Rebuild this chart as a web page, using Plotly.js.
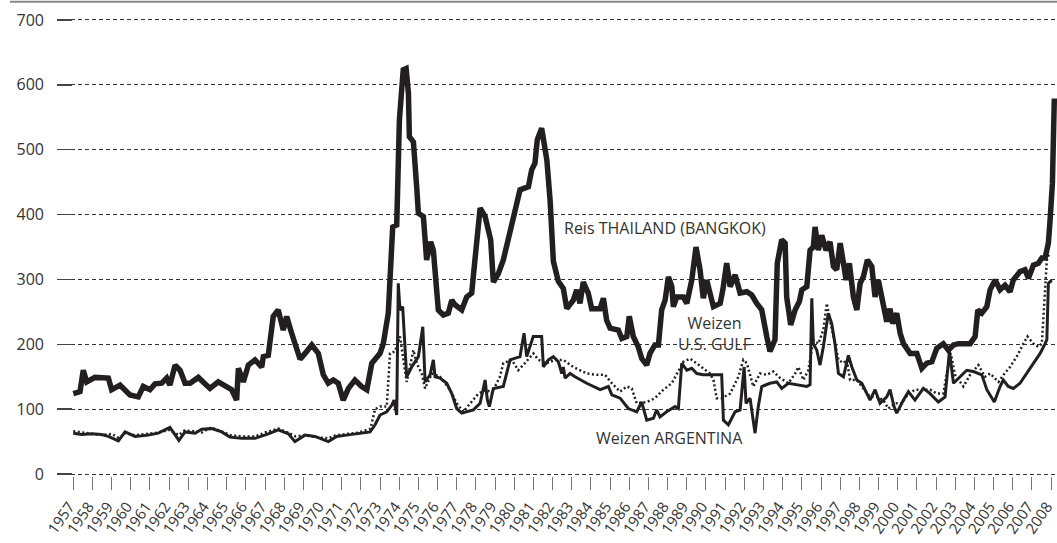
<!DOCTYPE html>
<html>
<head>
<meta charset="utf-8">
<script src="https://cdn.plot.ly/plotly-3.0.1.min.js"></script>
<style>
  html, body { margin: 0; padding: 0; background: #fff; }
  #chart { width: 1057px; height: 543px; }
</style>
</head>
<body>
<div id="chart"></div>
<script>
// Reis THAILAND (BANGKOK)
const riceX = [1957.0,1957.35,1957.52,1957.70,1958.13,1958.83,1959.0,1959.44,1959.96,1960.39,
  1960.65,1961.0,1961.26,1961.61,1961.87,1962.04,1962.31,1962.57,1962.83,1963.09,
  1963.52,1963.78,1964.13,1964.56,1964.91,1965.26,1965.52,1965.61,1965.87,1966.13,
  1966.48,1966.83,1966.91,1967.17,1967.43,1967.69,1967.95,1968.13,1968.39,1968.83,
  1969.09,1969.44,1969.78,1970.04,1970.30,1970.56,1970.82,1971.08,1971.35,1971.69,
  1972.04,1972.31,1972.57,1973.0,1973.17,1973.43,1973.66,1973.87,1974.01,1974.21,
  1974.36,1974.48,1974.53,1974.74,1974.91,1975.0,1975.26,1975.43,1975.64,1975.78,
  1976.04,1976.30,1976.56,1976.74,1976.91,1977.26,1977.52,1977.78,1977.95,1978.22,
  1978.48,1978.65,1978.77,1978.91,1979.17,1979.43,1979.69,1979.95,1980.30,1980.74,
  1980.91,1981.08,1981.20,1981.43,1981.70,1981.87,1982.04,1982.30,1982.56,1982.74,
  1983.08,1983.26,1983.43,1983.60,1983.86,1984.04,1984.48,1984.65,1984.82,1985.0,
  1985.43,1985.61,1985.87,1986.0,1986.21,1986.47,1986.65,1986.91,1987.08,1987.34,
  1987.52,1987.69,1987.87,1988.04,1988.22,1988.30,1988.48,1988.82,1989.0,1989.26,
  1989.48,1989.69,1989.86,1990.04,1990.21,1990.39,1990.74,1990.88,1991.08,1991.26,
  1991.52,1991.78,1992.13,1992.39,1992.65,1992.91,1993.17,1993.34,1993.60,1993.72,
  1993.95,1994.13,1994.21,1994.42,1994.65,1994.87,1995.0,1995.26,1995.43,1995.60,
  1995.69,1995.86,1996.04,1996.26,1996.47,1996.65,1996.82,1997.0,1997.17,1997.31,
  1997.48,1997.69,1997.87,1998.04,1998.21,1998.42,1998.65,1998.82,1998.99,1999.22,
  1999.43,1999.60,1999.74,1999.95,2000.13,2000.30,2000.65,2001.0,2001.26,2001.52,
  2001.78,2002.04,2002.38,2002.64,2002.91,2003.17,2003.43,2003.78,2004.04,2004.18,
  2004.39,2004.65,2004.82,2005.08,2005.34,2005.60,2005.86,2006.03,2006.38,2006.64,
  2006.82,2007.08,2007.34,2007.52,2007.69,2007.86,2007.95,2008.07,2008.17];
const riceY = [124,127,160,142,149,148,130,137,122,119,
  135,130,139,140,148,137,168,160,140,140,
  149,142,132,142,136,130,114,163,142,168,
  176,165,181,183,243,253,222,243,217,177,
  186,199,186,153,140,145,140,114,132,145,
  135,130,171,186,201,248,381,384,546,623,
  625,587,520,512,443,402,397,330,358,345,
  253,245,248,268,261,253,273,279,330,410,
  397,371,361,296,309,330,361,397,438,443,
  469,479,515,533,484,422,328,297,286,255,
  268,284,263,296,279,255,255,271,237,225,
  222,209,212,243,212,196,178,168,186,199,
  199,253,268,304,289,258,273,273,263,299,
  350,315,271,299,279,258,263,284,325,289,
  307,279,281,276,263,253,212,189,207,325,
  361,356,273,230,253,266,284,289,345,350,
  381,345,368,345,358,320,315,356,325,299,
  325,273,253,294,304,330,320,273,299,263,
  235,255,232,248,217,201,186,186,163,171,
  173,194,201,191,199,201,201,201,212,253,
  248,258,284,299,284,291,281,299,312,315,
  302,322,325,333,333,356,392,448,579];

// Weizen ARGENTINA
const argX = [1957.0,1957.44,1957.96,1958.48,1958.83,1959.35,1959.70,1960.22,1960.91,1961.43,
  1962.04,1962.31,1962.51,1962.83,1963.35,1963.70,1964.22,1964.74,1965.17,1965.78,
  1966.48,1967.17,1967.69,1968.22,1968.56,1969.09,1969.61,1970.30,1970.74,1971.26,
  1971.87,1972.48,1972.74,1973.0,1973.35,1973.61,1973.73,1973.87,1973.95,1974.04,
  1974.18,1974.30,1974.39,1974.65,1975.0,1975.23,1975.35,1975.61,1975.78,1975.87,
  1976.13,1976.48,1976.74,1977.0,1977.26,1977.87,1978.22,1978.48,1978.60,1978.70,
  1978.91,1979.43,1979.78,1980.30,1980.51,1980.65,1980.99,1981.43,1981.52,1981.78,
  1982.04,1982.30,1982.48,1982.56,1982.65,1982.91,1983.17,1983.78,1984.48,1984.91,
  1985.09,1985.52,1985.95,1986.39,1986.65,1986.91,1987.26,1987.43,1987.60,1987.95,
  1988.39,1988.56,1988.74,1989.0,1989.26,1989.52,1989.86,1990.82,1990.91,1991.17,
  1991.52,1991.78,1991.99,1992.09,1992.30,1992.56,1992.73,1992.91,1993.34,1993.69,
  1993.95,1994.30,1994.74,1995.26,1995.43,1995.52,1995.60,1995.78,1995.95,1996.12,
  1996.38,1996.56,1996.73,1996.91,1997.17,1997.43,1997.61,1997.87,1998.13,1998.56,
  1998.82,1999.08,1999.43,1999.60,1999.81,1999.95,2000.30,2000.56,2000.90,2001.34,
  2001.69,2002.12,2002.47,2002.70,2002.91,2003.26,2003.60,2003.95,2004.39,2004.65,
  2005.04,2005.34,2005.51,2005.77,2006.03,2006.38,2006.73,2007.08,2007.43,2007.69,
  2007.78,2007.86,2008.04];
const argY = [63,61,62,61,58,51,65,58,60,63,
  72,60,52,65,63,69,70,65,57,55,
  55,62,68,62,50,60,58,50,58,60,
  63,65,76,91,96,106,114,91,294,253,
  258,186,150,165,181,227,142,153,176,150,
  148,140,124,101,94,99,109,145,114,104,
  132,135,176,181,217,181,212,212,165,176,
  181,173,155,165,148,155,150,140,130,135,
  122,117,101,96,111,83,86,99,88,96,
  104,101,171,160,163,155,153,153,83,76,
  96,99,165,109,117,63,104,135,140,142,
  132,140,138,135,138,271,201,191,168,196,
  248,232,201,155,150,183,165,145,140,114,
  130,109,119,130,104,94,114,127,114,132,
  124,111,119,189,140,150,160,158,153,130,
  111,135,145,135,132,140,155,171,186,201,
  207,294,299];

// Weizen U.S. GULF
const gulfX = [1957.0,1957.5,1958.0,1958.5,1959.0,1959.4,1959.7,1960.2,1960.9,1961.4,
  1962.0,1962.5,1962.8,1963.4,1963.7,1964.2,1964.7,1965.2,1965.8,1966.5,
  1967.0,1967.7,1968.2,1968.6,1969.1,1969.6,1970.3,1970.7,1971.3,1971.9,
  1972.5,1972.74,1973.0,1973.35,1973.52,1973.78,1974.04,1974.30,1974.39,1974.74,
  1974.91,1975.17,1975.35,1975.70,1976.13,1976.65,1977.0,1977.34,1977.78,1978.13,
  1978.56,1978.82,1979.25,1979.43,1979.87,1980.21,1980.56,1981.0,1981.26,1981.70,
  1982.13,1982.56,1983.08,1983.78,1984.30,1984.73,1985.09,1985.52,1985.87,1986.13,
  1986.39,1986.91,1987.34,1987.78,1988.22,1988.48,1988.82,1989.17,1989.52,1989.86,
  1990.21,1990.39,1990.56,1990.82,1991.26,1991.69,1991.95,1992.13,1992.47,1992.82,
  1993.17,1993.52,1993.87,1994.30,1994.65,1994.82,1995.08,1995.34,1995.60,1995.86,
  1996.12,1996.30,1996.47,1996.65,1996.91,1997.17,1997.34,1997.52,1997.87,1998.13,
  1998.56,1998.91,1999.25,1999.51,1999.86,2000.21,2000.56,2000.91,2001.26,2001.69,
  2002.04,2002.38,2002.59,2002.77,2002.99,2003.43,2003.78,2004.21,2004.56,2004.82,
  2005.26,2005.52,2005.86,2006.21,2006.56,2006.77,2007.08,2007.34,2007.52,2007.69,
  2007.78,2007.90];
const gulfY = [66,64,62,60,62,55,63,60,62,64,
  68,60,67,66,64,72,66,60,58,58,
  64,70,64,58,60,57,55,60,62,64,
  70,100,104,104,186,189,212,160,142,191,
  171,155,132,155,150,130,109,96,111,124,
  130,124,150,171,176,160,171,186,176,171,
  176,176,165,155,153,153,140,127,135,132,
  109,111,117,130,140,155,173,178,171,163,
  155,145,117,117,124,150,176,171,135,155,
  153,158,148,140,155,165,145,160,207,201,
  222,263,237,212,176,171,176,145,145,135,
  119,119,114,101,109,109,124,130,130,130,
  124,124,160,186,153,135,153,168,150,155,
  142,153,165,181,201,212,201,196,201,294,
  330,340];

const yearLabels = ["1957","1958","1959","1960","1961","1962","1963","1964","1965","1966",
  "1967","1968","1969","1970","1971","1972","1973","1974","1975","1976",
  "1977","1978","1979","1980","1981","1982","1983","1984","1985","1986",
  "1987","1988","1989","1990","1991","1992","1993","1994","1995","1996",
  "1997","1998","1999","2000","2001","2002","2003","2004","2005","2006",
  "2007","2008"];
const yTicks = [0, 100, 200, 300, 400, 500, 600, 700];

const INK = "#231f20";
const TEXT = "#333333";

function lineTrace(x, y, width, dash) {
  return {
    type: "scatter",
    mode: "lines",
    x: x,
    y: y,
    line: { color: INK, width: width, dash: dash || "solid" },
    hoverinfo: "skip",
    showlegend: false
  };
}

const traces = [
  lineTrace(gulfX, gulfY, 2.5, "2px,2.5px"),
  lineTrace(argX, argY, 3),
  lineTrace(riceX, riceY, 5.5)
];

const labelFont = { family: "Open Sans, sans-serif", size: 16, color: TEXT };

// a little room above 700 and below 0 so the edge grid lines are kept
const layout = {
  width: 1057,
  height: 543,
  margin: { l: 57, r: 0, t: 18, b: 67, pad: 0 },
  paper_bgcolor: "#fff",
  plot_bgcolor: "#fff",
  font: { family: "Open Sans, sans-serif", size: 16, color: TEXT },
  xaxis: {
    range: [1956.15, 2008.31],
    tickmode: "array",
    tickvals: yearLabels.map(Number),
    ticktext: yearLabels,
    tickangle: -55,
    ticks: "outside",
    ticklen: 13,
    tickwidth: 1,
    tickcolor: "#777",
    ticklabeloverflow: "allow",
    ticklabelstandoff: 2,
    ticklabelshift: -4,
    tickfont: { size: 15, color: TEXT },
    showgrid: false,
    zeroline: false,
    showline: false
  },
  yaxis: {
    range: [-3, 703],
    tickmode: "array",
    tickvals: yTicks,
    ticks: "inside",
    ticklen: 15,
    tickwidth: 1.5,
    tickcolor: "#444",
    ticklabelstandoff: 12,
    tickfont: { size: 16, color: TEXT },
    showgrid: true,
    gridcolor: "#333",
    gridwidth: 1,
    griddash: "4px,3px",
    zeroline: false,
    showline: false
  },
  shapes: [
    {
      type: "line", xref: "paper", yref: "paper",
      x0: -0.047, x1: 1, y0: 1.0353, y1: 1.0353,
      line: { color: "#888", width: 2 }
    }
  ],
  annotations: [
    { x: 1987.87, y: 379, text: "Reis THAILAND (BANGKOK)", showarrow: false, font: labelFont },
    { x: 1990.47, y: 216, text: "Weizen<br>U.S. GULF", showarrow: false, font: labelFont },
    { x: 1988.08, y: 55, text: "Weizen ARGENTINA", showarrow: false, font: labelFont }
  ]
};

Plotly.newPlot("chart", traces, layout, { displayModeBar: false, staticPlot: true });
</script>
</body>
</html>
